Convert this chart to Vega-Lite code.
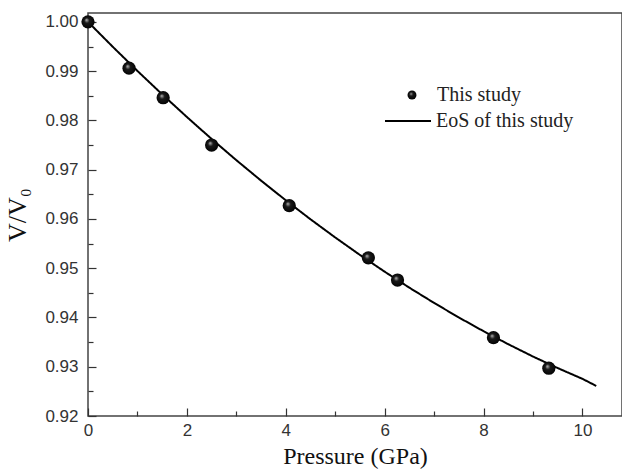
{
  "$schema": "https://vega.github.io/schema/vega-lite/v6.json",
  "width": 534,
  "height": 403,
  "autosize": {"type": "none"},
  "padding": {"left": 88, "top": 13, "right": 0, "bottom": 55},
  "background": "white",
  "config": {
    "view": {"stroke": "#444", "strokeWidth": 1.5},
    "axis": {
      "grid": false,
      "domain": false,
      "labelFlush": false,
      "tickColor": "#333",
      "tickWidth": 1.2,
      "labelFont": "Liberation Sans",
      "labelFontSize": 17,
      "labelColor": "#333",
      "titleFont": "Liberation Serif",
      "titleFontSize": 24,
      "titleFontWeight": "normal",
      "titleColor": "#111"
    },
    "legend": {
      "labelFont": "Liberation Serif",
      "labelFontSize": 20,
      "labelColor": "#222",
      "padding": 0,
      "orient": "none"
    }
  },
  "datasets": {
    "measured": [
      {"P": 0.0, "V": 1.0000, "series": "This study"},
      {"P": 0.83, "V": 0.9906, "series": "This study"},
      {"P": 1.52, "V": 0.9846, "series": "This study"},
      {"P": 2.50, "V": 0.9750, "series": "This study"},
      {"P": 4.07, "V": 0.9627, "series": "This study"},
      {"P": 5.67, "V": 0.9521, "series": "This study"},
      {"P": 6.26, "V": 0.9476, "series": "This study"},
      {"P": 8.20, "V": 0.9359, "series": "This study"},
      {"P": 9.32, "V": 0.9297, "series": "This study"}
    ],
    "eos": [
      {"P": 0.0, "V": 1.0000, "series": "EoS of this study"},
      {"P": 0.5, "V": 0.99495, "series": "EoS of this study"},
      {"P": 1.0, "V": 0.99004, "series": "EoS of this study"},
      {"P": 1.5, "V": 0.98529, "series": "EoS of this study"},
      {"P": 2.0, "V": 0.98069, "series": "EoS of this study"},
      {"P": 2.5, "V": 0.97623, "series": "EoS of this study"},
      {"P": 3.0, "V": 0.97193, "series": "EoS of this study"},
      {"P": 3.5, "V": 0.96778, "series": "EoS of this study"},
      {"P": 4.0, "V": 0.96378, "series": "EoS of this study"},
      {"P": 4.5, "V": 0.95993, "series": "EoS of this study"},
      {"P": 5.0, "V": 0.95624, "series": "EoS of this study"},
      {"P": 5.5, "V": 0.95269, "series": "EoS of this study"},
      {"P": 6.0, "V": 0.94929, "series": "EoS of this study"},
      {"P": 6.5, "V": 0.94604, "series": "EoS of this study"},
      {"P": 7.0, "V": 0.94295, "series": "EoS of this study"},
      {"P": 7.5, "V": 0.94000, "series": "EoS of this study"},
      {"P": 8.0, "V": 0.93721, "series": "EoS of this study"},
      {"P": 8.5, "V": 0.93457, "series": "EoS of this study"},
      {"P": 9.0, "V": 0.93207, "series": "EoS of this study"},
      {"P": 9.5, "V": 0.92973, "series": "EoS of this study"},
      {"P": 10.0, "V": 0.92754, "series": "EoS of this study"},
      {"P": 10.28, "V": 0.92610, "series": "EoS of this study"}
    ]
  },
  "layer": [
    {
      "data": {"name": "eos"},
      "mark": {"type": "line", "color": "black", "strokeWidth": 2, "clip": true},
      "encoding": {
        "x": {
          "field": "P", "type": "quantitative",
          "scale": {"domain": [0, 10.8], "nice": false, "zero": false},
          "axis": {"orient": "bottom", "title": "Pressure (GPa)", "values": [0, 2, 4, 6, 8, 10], "offset": -8, "tickSize": 8, "labelPadding": 6, "titlePadding": 6}
        },
        "y": {
          "field": "V", "type": "quantitative",
          "scale": {"domain": [0.92, 1.0018], "nice": false, "zero": false},
          "axis": {"orient": "left", "title": "V/V₀", "titleFontSize": 26, "values": [0.92, 0.93, 0.94, 0.95, 0.96, 0.97, 0.98, 0.99, 1.0], "format": ".2f", "offset": -8, "tickSize": 8, "labelPadding": 10, "titlePadding": 14}
        },
        "strokeDash": {
          "field": "series", "type": "nominal",
          "scale": {"range": [[1, 0]]},
          "legend": {"title": null, "symbolType": "stroke", "symbolSize": 2116, "symbolStrokeWidth": 2, "symbolStrokeColor": "black", "labelOffset": 4, "legendX": 296, "legendY": 84}
        }
      }
    },
    {
      "data": {"name": "measured"},
      "mark": {
        "type": "point", "filled": true, "size": 175, "opacity": 1,
        "color": {"gradient": "radial", "x1": 0.38, "y1": 0.35, "r1": 0, "x2": 0.5, "y2": 0.5, "r2": 0.55,
          "stops": [{"offset": 0, "color": "#bbbbbb"}, {"offset": 0.35, "color": "#1a1a1a"}, {"offset": 1, "color": "#000000"}]}
      },
      "encoding": {
        "x": {
          "field": "P", "type": "quantitative",
          "axis": {"orient": "bottom", "title": null, "values": [1, 3, 5, 7, 9], "offset": -5, "tickSize": 5, "labels": false}
        },
        "y": {
          "field": "V", "type": "quantitative",
          "axis": {"orient": "left", "title": null, "values": [0.925, 0.935, 0.945, 0.955, 0.965, 0.975, 0.985, 0.995], "offset": -5, "tickSize": 5, "labels": false}
        },
        "shape": {
          "field": "series", "type": "nominal",
          "scale": {"range": ["circle"]},
          "legend": {"title": null, "symbolType": "circle", "symbolSize": 80, "symbolFillColor": "black", "symbolStrokeColor": "black", "labelOffset": 15, "legendX": 314, "legendY": 72}
        }
      }
    }
  ],
  "resolve": {"axis": {"x": "independent", "y": "independent"}}
}
